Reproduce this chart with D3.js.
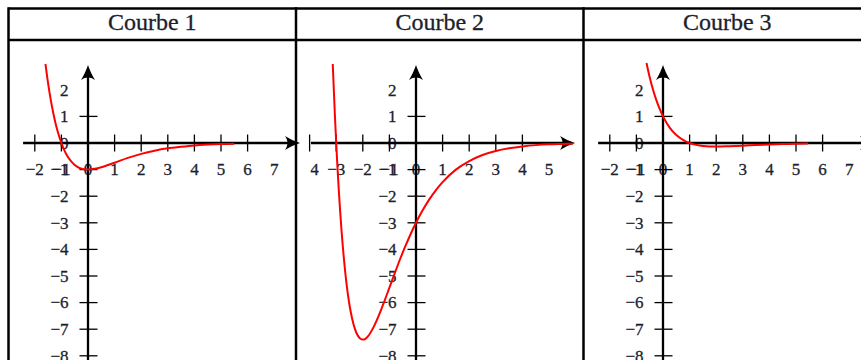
<!DOCTYPE html>
<html>
<head>
<meta charset="utf-8">
<script src="https://cdn.jsdelivr.net/npm/d3@7"></script>
<style>
  html, body { margin: 0; padding: 0; background: #fff; }
  svg { display: block; }
</style>
</head>
<body>
<svg id="chart" width="861" height="360"></svg>
<script>
// ---------- data ----------
const panelTitles = ["Courbe 1", "Courbe 2", "Courbe 3"];

const curve1X = [-1.6, -1.5, -1.4, -1.3, -1.2, -1.1, -1.0, -0.9, -0.8, -0.6, -0.4, -0.2, 0, 0.25, 0.5, 1, 1.5, 2, 2.5, 3, 3.5, 4, 4.5, 5, 5.5];
const curve1Y = [2.97, 2.24, 1.62, 1.10, 0.66, 0.30, 0, -0.25, -0.45, -0.73, -0.90, -0.98, -1.00, -0.97, -0.91, -0.74, -0.56, -0.41, -0.29, -0.20, -0.14, -0.09, -0.06, -0.04, -0.03];

const curve2X = [-3.13, -3.05, -3.0, -2.95, -2.9, -2.85, -2.8, -2.7, -2.6, -2.5, -2.4, -2.3, -2.2, -2.1, -2.0, -1.9, -1.8, -1.6, -1.4, -1.2, -1.0, -0.8, -0.6, -0.4, -0.2, 0, 0.25, 0.5, 0.75, 1, 1.5, 2, 2.5, 3, 3.5, 4, 4.5, 5, 5.5, 5.9];
const curve2Y = [2.97, 1.06, 0, -0.96, -1.82, -2.59, -3.29, -4.46, -5.39, -6.09, -6.61, -6.98, -7.22, -7.35, -7.39, -7.36, -7.26, -6.93, -6.49, -5.98, -5.44, -4.90, -4.37, -3.88, -3.42, -3.00, -2.53, -2.12, -1.77, -1.47, -1.00, -0.68, -0.45, -0.30, -0.20, -0.13, -0.08, -0.05, -0.035, -0.024];

const curve3X = [-0.62, -0.5, -0.375, -0.25, -0.125, 0, 0.25, 0.5, 0.75, 1, 1.25, 1.5, 2, 2.5, 3, 3.5, 4, 4.5, 5, 5.45];
const curve3Y = [3.01, 2.47, 2.00, 1.61, 1.28, 1.00, 0.58, 0.30, 0.12, 0, -0.07, -0.11, -0.135, -0.12, -0.10, -0.075, -0.055, -0.04, -0.027, -0.019];

const xTicks1 = [-2, -1, 1, 2, 3, 4, 5, 6];
const xLabels1 = [-2, -1, 0, 1, 2, 3, 4, 5, 6, 7];
const xTicks2 = [-4, -3, -2, -1, 1, 2, 3, 4];
const xLabels2 = [-4, -3, -2, -1, 0, 1, 2, 3, 4, 5];
const xTicks3 = [-2, -1, 1, 2, 3, 4, 5, 6];
const xLabels3 = [-2, -1, 0, 1, 2, 3, 4, 5, 6, 7];
const yTicks = [1, -1, -2, -3, -4, -5, -6, -7, -8];
const yLabels = [2, 1, 0, -1, -2, -3, -4, -5, -6, -7, -8];

// ---------- layout ----------
const W = 861, H = 360;
const unit = 26.6;
const originY = 143;
const borderTop = 8.5, headerLine = 40;
const colEdges = [8.5, 296, 583.5, 871];

const panels = [
  { title: panelTitles[0], xs: curve1X, ys: curve1Y, ticks: xTicks1, labels: xLabels1, xMin: -2.44, xMax: 7.97, originX: 88 },
  { title: panelTitles[1], xs: curve2X, ys: curve2Y, ticks: xTicks2, labels: xLabels2, xMin: -3.95, xMax: 5.98, originX: 416 },
  { title: panelTitles[2], xs: curve3X, ys: curve3Y, ticks: xTicks3, labels: xLabels3, xMin: -2.44, xMax: 7.97, originX: 663 }
];

const svg = d3.select("#chart");
svg.append("rect").attr("width", W).attr("height", H).attr("fill", "#fff");
const defs = svg.append("defs");

const font = "'Liberation Serif', 'DejaVu Serif', serif";
const textColor = "#1b1f2e";
const fmt = v => (v < 0 ? "\u2212" + Math.abs(v) : String(v));

const yScale = d3.scaleLinear()
  .domain([-8.6, 2.93])
  .range([originY + 8.6 * unit, originY - 2.93 * unit]);

function arrowPath(len, half) {
  return `M0,0 C${-len*0.35},${-half*0.25} ${-len*0.7},${-half*0.6} ${-len},${-half}` +
         ` C${-len*0.78},${-half*0.35} ${-len*0.78},${half*0.35} ${-len},${half}` +
         ` C${-len*0.7},${half*0.6} ${-len*0.35},${half*0.25} 0,0 Z`;
}

panels.forEach((p, i) => {
  const x = d3.scaleLinear()
    .domain([p.xMin, p.xMax])
    .range([p.originX + p.xMin * unit, p.originX + p.xMax * unit]);
  const g = svg.append("g");

  const clipId = "clip" + i;
  defs.append("clipPath").attr("id", clipId)
    .append("rect")
    .attr("x", x(p.xMin) - 0.5).attr("y", 0)
    .attr("width", W).attr("height", H);

  const lab = g.append("g").attr("clip-path", `url(#${clipId})`)
    .attr("font-family", font).attr("font-size", 17).attr("fill", textColor)
    .attr("stroke", textColor).attr("stroke-width", 0.3);

  lab.selectAll("text.xl").data(p.labels).join("text")
    .attr("class", "xl")
    .attr("x", d => x(d)).attr("y", yScale(-1) + 5.8)
    .attr("text-anchor", "middle")
    .text(d => fmt(d));

  lab.selectAll("text.yl").data(yLabels).join("text")
    .attr("class", "yl")
    .attr("x", x(0) - 19.5).attr("y", d => yScale(d) + 5.8)
    .attr("text-anchor", "end")
    .text(d => fmt(d));

  g.append("line")
    .attr("x1", x(p.xMin)).attr("x2", x(p.xMax) - 4)
    .attr("y1", yScale(0)).attr("y2", yScale(0))
    .attr("stroke", "#000").attr("stroke-width", 2.3);
  g.append("path").attr("d", arrowPath(15, 7))
    .attr("transform", `translate(${x(p.xMax)},${yScale(0)})`)
    .attr("fill", "#000");

  g.selectAll("line.xt").data(p.ticks).join("line")
    .attr("class", "xt")
    .attr("x1", d => x(d)).attr("x2", d => x(d))
    .attr("y1", yScale(0) - 8.5).attr("y2", yScale(0) + 8.5)
    .attr("stroke", "#000").attr("stroke-width", 1.3);

  g.append("line")
    .attr("x1", x(0)).attr("x2", x(0))
    .attr("y1", H + 5).attr("y2", yScale(2.93) + 4)
    .attr("stroke", "#000").attr("stroke-width", 2.3);
  g.append("path").attr("d", arrowPath(15, 7))
    .attr("transform", `translate(${x(0)},${yScale(2.93)}) rotate(-90)`)
    .attr("fill", "#000");

  g.selectAll("line.yt").data(yTicks).join("line")
    .attr("class", "yt")
    .attr("x1", d => x(0) - 8.5).attr("x2", x(0) + 9.5)
    .attr("y1", d => yScale(d)).attr("y2", d => yScale(d))
    .attr("stroke", "#000").attr("stroke-width", 1.3);

  const pts = p.xs.map((v, k) => [v, p.ys[k]]);
  g.append("path")
    .datum(pts)
    .attr("d", d3.line().x(d => x(d[0])).y(d => yScale(d[1])).curve(d3.curveMonotoneX))
    .attr("fill", "none").attr("stroke", "#ff0000").attr("stroke-width", 2);

  svg.append("text")
    .attr("x", (colEdges[i] + colEdges[i + 1]) / 2)
    .attr("y", 30)
    .attr("text-anchor", "middle")
    .attr("font-family", font).attr("font-size", 24)
    .attr("fill", textColor)
    .attr("stroke", textColor).attr("stroke-width", 0.3)
    .text(p.title);
});

const bord = svg.append("g").attr("stroke", "#000").attr("stroke-width", 2.5).attr("fill", "none");
bord.append("line").attr("x1", colEdges[0]).attr("x2", W + 5).attr("y1", borderTop).attr("y2", borderTop);
bord.append("line").attr("x1", colEdges[0]).attr("x2", W + 5).attr("y1", headerLine).attr("y2", headerLine);
colEdges.forEach(cx => {
  bord.append("line").attr("x1", cx).attr("x2", cx).attr("y1", borderTop - 1.25).attr("y2", H + 5);
});
</script>
</body>
</html>
